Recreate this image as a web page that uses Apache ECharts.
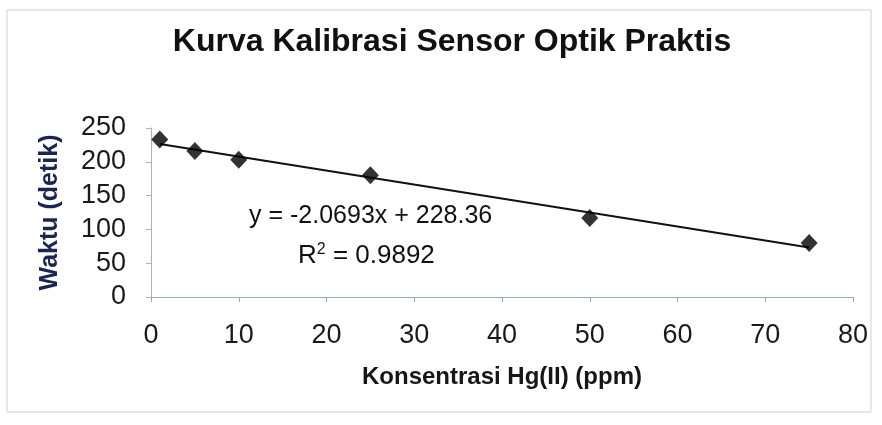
<!DOCTYPE html>
<html>
<head>
<meta charset="utf-8">
<script src="https://cdn.jsdelivr.net/npm/echarts@6/dist/echarts.min.js"></script>
<style>
	html, body { margin: 0; padding: 0; background: #fff; }
	#chart { width: 882px; height: 425px; }
</style>
</head>
<body>
<div id="chart"></div>
<script>
// data
const konsentrasi = [1, 5, 10, 25, 50, 75]
const waktu = [233, 216, 203, 180, 117, 80]

// trendline end points (from y = -2.0693x + 228.36)
const trendX = [1, 75]
const trendY = [226.3, 73.2]

const xTicks = [0, 10, 20, 30, 40, 50, 60, 70, 80]
const yTicks = [0, 50, 100, 150, 200, 250]

const FONT = '"Liberation Sans", Arial, sans-serif'

$chart = () => {
	const chart = echarts.init(document.getElementById('chart'))

	const option = {
		animation: false,
		backgroundColor: '#fff',
		grid: {
			left: 151,
			right: 29,
			top: 128,
			bottom: 128,
		},
		xAxis: {
			type: 'value',
			min: xTicks[0],
			max: xTicks[xTicks.length - 1],
			interval: 10,
			name: 'Konsentrasi Hg(II) (ppm)',
			nameLocation: 'middle',
			nameGap: 68,
			nameTextStyle: {
				fontFamily: FONT,
				fontSize: 24,
				fontWeight: 'bold',
				color: '#161616',
			},
			axisLine: { show: true, lineStyle: { color: '#8fb3b8', width: 1 } },
			axisTick: { show: true, length: 5, lineStyle: { color: '#9aa' } },
			axisLabel: {
				margin: 25,
				fontFamily: FONT,
				fontSize: 27,
				color: '#1a1a1a',
			},
			splitLine: { show: false },
		},
		yAxis: {
			type: 'value',
			min: yTicks[0],
			max: yTicks[yTicks.length - 1],
			interval: 50,
			name: 'Waktu (detik)',
			nameLocation: 'middle',
			nameGap: 88,
			nameTextStyle: {
				fontFamily: FONT,
				fontSize: 25,
				fontWeight: 'bold',
				color: '#1c2552',
			},
			axisLine: { show: true, lineStyle: { color: '#a8b4b4', width: 1 } },
			axisTick: { show: true, length: 5, lineStyle: { color: '#a8b4b4' } },
			axisLabel: {
				margin: 25,
				fontFamily: FONT,
				fontSize: 27,
				color: '#1a1a1a',
			},
			splitLine: { show: false },
		},
		series: [
			// trendline
			{
				type: 'line',
				data: trendX.map((x, i) => [x, trendY[i]]),
				symbol: 'none',
				lineStyle: { color: '#111', width: 2 },
				z: 2,
			},
			// measured points
			{
				type: 'scatter',
				data: konsentrasi.map((x, i) => [x, waktu[i]]),
				symbol: 'diamond',
				symbolSize: [17, 18],
				itemStyle: { color: '#000' },
				z: 3,
			},
		],
		graphic: [
			{
				type: 'rect',
				shape: { x: 7, y: 10, width: 864, height: 402 },
				style: { fill: 'none', stroke: '#cfcfcf', lineWidth: 1 },
				silent: true,
			},
			{
				type: 'text',
				x: 452,
				y: 26,
				style: {
					text: 'Kurva Kalibrasi Sensor Optik Praktis',
					font: 'bold 32px ' + FONT,
					fill: '#111',
					textAlign: 'center',
				},
			},
			{
				type: 'text',
				left: 249,
				top: 204,
				style: {
					text: 'y = -2.0693x + 228.36',
					font: '25px ' + FONT,
					fill: '#111',
				},
			},
			{
				type: 'text',
				left: 298,
				top: 242,
				style: {
					text: 'R{sup|2} = 0.9892',
					font: '26px ' + FONT,
					fill: '#111',
					rich: {
						sup: { fontSize: 16, fontFamily: FONT, verticalAlign: 'top', padding: [0, 0, 12, 0] },
					},
				},
			},
		],
	}

	chart.setOption(option)
}

$chart()
</script>
</body>
</html>
